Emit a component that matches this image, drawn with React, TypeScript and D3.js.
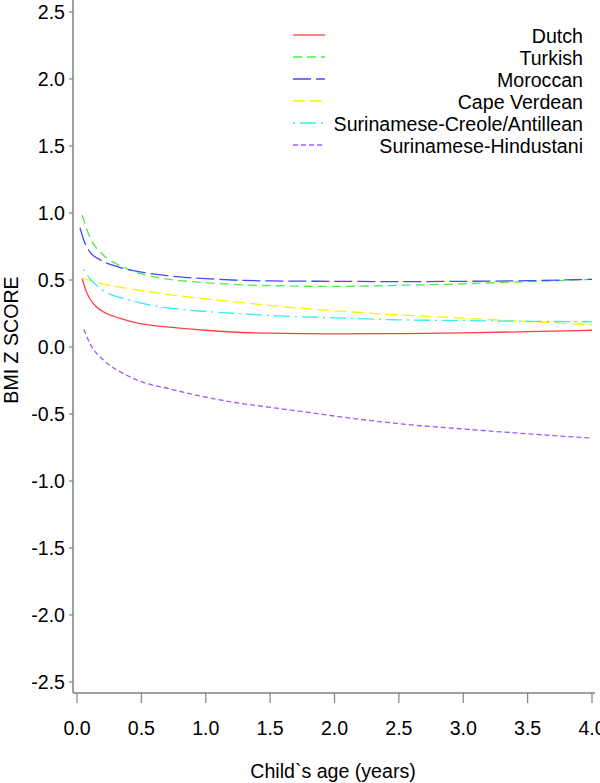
import React from 'react'
import * as d3 from 'd3'

// child age in years
const dutchAge = [0.04, 0.07, 0.1, 0.15, 0.2, 0.33, 0.46, 0.72, 1.0, 1.25, 1.5, 2.0, 2.5, 3.0, 3.5, 4.0]
const dutchZ = [0.51, 0.42, 0.36, 0.3, 0.265, 0.215, 0.18, 0.148, 0.125, 0.11, 0.103, 0.098, 0.1, 0.106, 0.114, 0.125]

const turkishAge = [0.04, 0.1, 0.2, 0.33, 0.41, 0.5, 0.72, 1.0, 1.25, 1.5, 2.0, 2.5, 3.0, 3.5, 4.0]
const turkishZ = [0.985, 0.82, 0.69, 0.61, 0.575, 0.545, 0.505, 0.48, 0.465, 0.458, 0.452, 0.46, 0.472, 0.488, 0.505]

const moroccanAge = [0.023, 0.06, 0.1, 0.18, 0.33, 0.41, 0.5, 0.72, 1.0, 1.25, 1.5, 2.0, 2.5, 3.0, 3.5, 4.0]
const moroccanZ = [0.89, 0.78, 0.71, 0.65, 0.595, 0.575, 0.558, 0.53, 0.51, 0.498, 0.493, 0.49, 0.488, 0.49, 0.495, 0.505]

const capeAge = [0.04, 0.1, 0.2, 0.41, 0.72, 1.0, 1.25, 1.5, 2.0, 2.5, 3.0, 3.5, 4.0]
const capeZ = [0.517, 0.495, 0.47, 0.435, 0.39, 0.36, 0.335, 0.31, 0.27, 0.24, 0.215, 0.19, 0.165]

const creoleAge = [0.05, 0.1, 0.2, 0.41, 0.72, 1.0, 1.25, 1.5, 2.0, 2.5, 3.0, 3.5, 4.0]
const creoleZ = [0.58, 0.51, 0.425, 0.35, 0.29, 0.265, 0.25, 0.235, 0.218, 0.203, 0.197, 0.192, 0.188]

const hindustaniAge = [0.054, 0.1, 0.205, 0.334, 0.464, 0.722, 0.98, 1.24, 1.5, 1.76, 2.0, 2.48, 3.0, 3.52, 4.0]
const hindustaniZ = [0.132, 0.027, -0.097, -0.184, -0.246, -0.313, -0.37, -0.416, -0.45, -0.483, -0.515, -0.57, -0.612, -0.649, -0.68]

const xTicks = [0, 0.5, 1, 1.5, 2, 2.5, 3, 3.5, 4]
const yTicks = [-2.5, -2, -1.5, -1, -0.5, 0, 0.5, 1, 1.5, 2, 2.5]

const series = [
  { name: 'Dutch', age: dutchAge, z: dutchZ, color: '#ff4040', dash: '' },
  { name: 'Turkish', age: turkishAge, z: turkishZ, color: '#4cf04c', dash: '9,5' },
  { name: 'Moroccan', age: moroccanAge, z: moroccanZ, color: '#4848ff', dash: '18,5' },
  { name: 'Cape Verdean', age: capeAge, z: capeZ, color: '#f5f500', dash: '12,5' },
  { name: 'Surinamese-Creole/Antillean', age: creoleAge, z: creoleZ, color: '#30f0f0', dash: '2,5,16,5' },
  { name: 'Surinamese-Hindustani', age: hindustaniAge, z: hindustaniZ, color: '#9a5cff', dash: '5,3' },
]

const font = 'Arial, "Liberation Sans", sans-serif'
const axisColor = '#808080'
const fs = 19.6

export default function App() {
  const width = 600
  const height = 783

  const x = d3.scaleLinear().domain([0, 4]).range([77, 592])
  const y = d3.scaleLinear().domain([-2.5, 2.5]).range([682, 12])

  const line = d3
    .line<[number, number]>()
    .x((d) => x(d[0]))
    .y((d) => y(d[1]))
    .curve(d3.curveMonotoneX)

  return (
    <svg width={width} height={height} style={{ position: 'absolute', left: 0, top: 0 }}>
      <rect width={width} height={height} fill="#fff" />

      {/* axes */}
      <line x1={73} x2={73} y1={0} y2={693} stroke={axisColor} strokeWidth={1.5} />
      <line x1={73} x2={595} y1={693} y2={693} stroke={axisColor} strokeWidth={1.5} />

      {yTicks.map((t) => (
        <g key={t}>
          <line x1={69} x2={73} y1={y(t)} y2={y(t)} stroke={axisColor} strokeWidth={1.2} />
          <text x={65} y={y(t)} dy="0.36em" textAnchor="end" fontFamily={font} fontSize={fs}>
            {t.toFixed(1)}
          </text>
        </g>
      ))}

      {xTicks.map((t) => (
        <g key={t}>
          <line x1={x(t)} x2={x(t)} y1={693} y2={703} stroke={axisColor} strokeWidth={1.2} />
          <text x={x(t)} y={735} textAnchor="middle" fontFamily={font} fontSize={fs}>
            {t.toFixed(1)}
          </text>
        </g>
      ))}

      <text x={333} y={778} textAnchor="middle" fontFamily={font} fontSize={fs}>
        Child`s age (years)
      </text>
      <text
        transform="translate(18,340) rotate(-90)"
        textAnchor="middle"
        fontFamily={font}
        fontSize={fs}>
        BMI Z SCORE
      </text>

      {/* curves */}
      {series.map((s) => (
        <path
          key={s.name}
          d={line(s.age.map((a, i) => [a, s.z[i]] as [number, number])) || ''}
          fill="none"
          stroke={s.color}
          strokeWidth={1.3}
          strokeDasharray={s.dash}
        />
      ))}

      {/* legend */}
      {series.map((s, i) => {
        const by = 43 + i * 22
        return (
          <g key={s.name}>
            <line x1={293} x2={325} y1={by - 8} y2={by - 8} stroke={s.color} strokeWidth={1.3} strokeDasharray={s.dash} />
            <text x={583} y={by} textAnchor="end" fontFamily={font} fontSize={fs}>
              {s.name}
            </text>
          </g>
        )
      })}
    </svg>
  )
}
